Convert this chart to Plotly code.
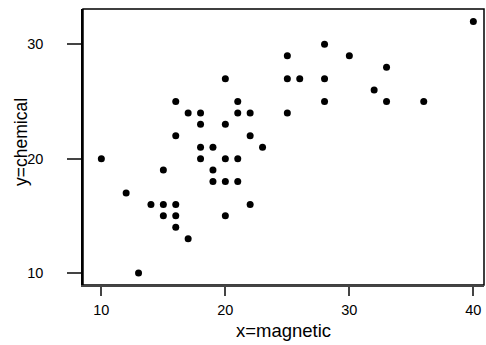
import plotly.graph_objects as go

magnetic = [10, 12, 13, 14, 15, 16, 15, 16, 16, 15, 16, 16, 17, 17, 18, 18, 18, 18,
            19, 19, 19, 20, 20, 20, 20, 20, 21, 21, 21, 21, 22, 22, 22, 23,
            25, 25, 25, 26, 28, 28, 28, 30, 32, 33, 33, 36, 40]
chemical = [20, 17, 10, 16, 16, 16, 15, 15, 14, 19, 22, 25, 24, 13, 24, 23, 21, 20,
            21, 19, 18, 27, 23, 20, 18, 15, 25, 24, 20, 18, 24, 22, 16, 21,
            29, 27, 24, 27, 30, 27, 25, 29, 26, 28, 25, 25, 32]

x_ticks = [10, 20, 30, 40]
y_ticks = [10, 20, 30]
x_title = "x=magnetic"
y_title = "y=chemical"

fig = go.Figure()
fig.add_trace(go.Scatter(x=magnetic, y=chemical, mode="markers",
                         marker=dict(color="black", size=7), showlegend=False))

font = "Liberation Sans, Arial, sans-serif"
fig.update_layout(
    width=486, height=345,
    margin=dict(l=83, r=2, t=9, b=60, autoexpand=False),
    paper_bgcolor="white", plot_bgcolor="white",
    hovermode=False,
    font=dict(family=font, color="black", size=14.5),
    xaxis=dict(range=[8.52, 40.86], tickvals=x_ticks, ticks="outside", ticklen=9,
               tickcolor="#444", tickwidth=1.5, showgrid=False, zeroline=False,
               showline=True, linecolor="#444", linewidth=2, automargin=False,
               title=dict(text=x_title, font=dict(size=18.5), standoff=7),
               tickfont=dict(size=14.5), ticklabelstandoff=2),
    yaxis=dict(range=[8.95, 33.09], tickvals=y_ticks, ticks="outside", ticklen=14,
               tickcolor="#444", tickwidth=1.5, showgrid=False, zeroline=False,
               showline=True, linecolor="black", linewidth=1.5, automargin=False,
               tickfont=dict(size=14.5), ticklabelstandoff=21),
    annotations=[dict(text=y_title, xref="paper", yref="paper", x=0, y=0.5,
                      xanchor="center", yanchor="middle", xshift=-62, yshift=5,
                      textangle=-90, showarrow=False, font=dict(size=17.5))],
    shapes=[dict(type="rect", xref="paper", yref="paper", x0=0, y0=0, x1=1, y1=1,
                 line=dict(color="black", width=1.5), layer="below")],
)
fig.write_html("out.html", config={"displayModeBar": False},
               post_script="document.body.style.margin='0';document.body.style.overflow='hidden';")
